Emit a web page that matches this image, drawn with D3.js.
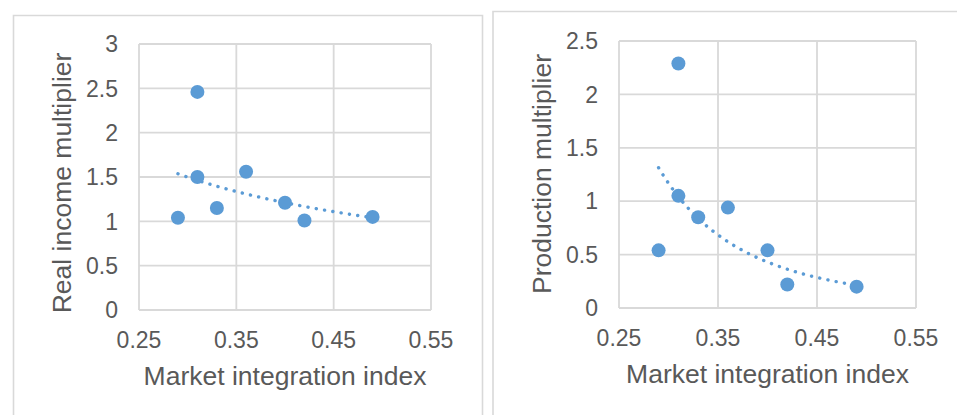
<!DOCTYPE html>
<html>
<head>
<meta charset="utf-8">
<script src="https://cdn.jsdelivr.net/npm/d3@7"></script>
<style>
  body { margin: 0; background: #fff; }
  svg { display: block; }
  text { font-family: "Liberation Sans", Arial, sans-serif; fill: #595959; }
</style>
</head>
<body>
<script>
// market integration index (shared x values)
var marketIndex = [0.29, 0.31, 0.31, 0.33, 0.36, 0.40, 0.42, 0.49];
// left panel
var realIncome = [1.04, 2.46, 1.50, 1.15, 1.56, 1.21, 1.01, 1.05];
// right panel
var production = [0.54, 2.29, 1.05, 0.85, 0.94, 0.54, 0.22, 0.20];

var xTicks = [0.25, 0.35, 0.45, 0.55];
var incomeTicks = [0, 0.5, 1, 1.5, 2, 2.5, 3];
var productionTicks = [0, 0.5, 1, 1.5, 2, 2.5];

var svg = d3.select('body').append('svg')
  .attr('width', 957)
  .attr('height', 415);

// power trendline fit (like excel): ln y = a + b ln x
function powerFit(xs, ys) {
  var lx = xs.map(Math.log), ly = ys.map(Math.log);
  var mx = d3.mean(lx), my = d3.mean(ly);
  var sxy = 0, sxx = 0;
  for (var i = 0; i < lx.length; i++) {
    sxy += (lx[i] - mx) * (ly[i] - my);
    sxx += (lx[i] - mx) * (lx[i] - mx);
  }
  var b = sxy / sxx, a = Math.exp(my - b * mx);
  return function(x) { return a * Math.pow(x, b); };
}

function drawPanel(p) {
  var g = svg.append('g');

  // outer chart frame (open at bottom)
  g.append('path')
    .attr('d', 'M' + p.frame[0] + ',415V' + p.frame[1] + 'H' + p.frame[2] + 'V415')
    .attr('fill', 'none')
    .attr('stroke', '#d9d9d9')
    .attr('stroke-width', 1.6);

  var x = d3.scaleLinear().domain([0.25, 0.55]).range([p.left, p.right]);
  var y = d3.scaleLinear().domain([0, p.yMax]).range([p.bottom, p.top]);

  // gridlines
  g.selectAll('.hgrid').data(p.yTicks).enter()
    .append('line')
    .attr('x1', p.left).attr('x2', p.right)
    .attr('y1', function(d) { return y(d); })
    .attr('y2', function(d) { return y(d); })
    .attr('stroke', '#d9d9d9').attr('stroke-width', 1.8);
  g.selectAll('.vgrid').data(xTicks).enter()
    .append('line')
    .attr('y1', p.top).attr('y2', p.bottom)
    .attr('x1', function(d) { return x(d); })
    .attr('x2', function(d) { return x(d); })
    .attr('stroke', '#d9d9d9').attr('stroke-width', 1.8);

  // tick labels
  g.selectAll('.ytick').data(p.yTicks).enter()
    .append('text')
    .attr('x', p.left - 21)
    .attr('y', function(d) { return y(d); })
    .attr('dy', '0.36em')
    .attr('text-anchor', 'end')
    .attr('font-size', '23px')
    .text(function(d) { return d; });
  g.selectAll('.xtick').data(xTicks).enter()
    .append('text')
    .attr('x', function(d) { return x(d); })
    .attr('y', p.bottom + 38)
    .attr('text-anchor', 'middle')
    .attr('font-size', '23px')
    .text(function(d) { return d3.format('.2f')(d); });

  // axis titles
  g.append('text')
    .attr('x', (p.left + p.right) / 2)
    .attr('y', p.bottom + 75)
    .attr('text-anchor', 'middle')
    .attr('font-size', '26.5px')
    .text('Market integration index');
  g.append('text')
    .attr('transform', 'translate(' + p.yTitleX + ',' + p.yTitleY + ') rotate(-90)')
    .attr('text-anchor', 'middle')
    .attr('font-size', '26.5px')
    .text(p.yTitle);

  // trendline
  var f = powerFit(marketIndex, p.values);
  var ext = d3.extent(marketIndex);
  var pts = d3.range(0, 41).map(function(i) {
    var xv = ext[0] + (ext[1] - ext[0]) * i / 40;
    return [xv, f(xv)];
  });
  g.append('path')
    .datum(pts)
    .attr('d', d3.line()
      .x(function(d) { return x(d[0]); })
      .y(function(d) { return y(d[1]); }))
    .attr('fill', 'none')
    .attr('stroke', '#5b9bd5')
    .attr('stroke-width', 3.4)
    .attr('stroke-linecap', 'round')
    .attr('stroke-dasharray', '0.1,8.3');

  // points
  g.selectAll('circle').data(p.values).enter()
    .append('circle')
    .attr('cx', function(d, i) { return x(marketIndex[i]); })
    .attr('cy', function(d) { return y(d); })
    .attr('r', 7)
    .attr('fill', '#5b9bd5');
}

drawPanel({
  frame: [13.5, 15.5, 482.5],
  left: 139, right: 431, top: 44, bottom: 310,
  yMax: 3, yTicks: incomeTicks,
  values: realIncome,
  yTitle: 'Real income multiplier',
  yTitleX: 71, yTitleY: 183
});

drawPanel({
  frame: [493, 11.5, 960],
  left: 619, right: 916, top: 41, bottom: 308,
  yMax: 2.5, yTicks: productionTicks,
  values: production,
  yTitle: 'Production multiplier',
  yTitleX: 551, yTitleY: 174
});
</script>
</body>
</html>
